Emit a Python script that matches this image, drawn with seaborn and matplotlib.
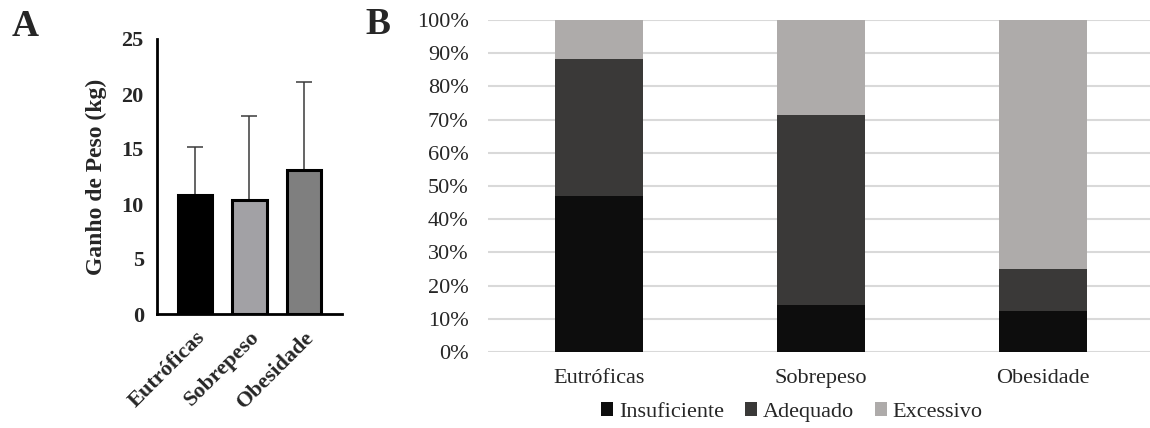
import numpy as np
import pandas as pd
import matplotlib
matplotlib.use("Agg")
import matplotlib.pyplot as plt
import seaborn as sns
from matplotlib.patches import Patch

# Panel A: mean weight gain and SD per nutritional status group
groups = ["Eutróficas", "Sobrepeso", "Obesidade"]
gain_mean = [10.8, 10.4, 13.1]
gain_sd = [4.4, 7.6, 8.0]
gain_colors = ["#000000", "#a2a1a5", "#7f7f7f"]

# Panel B: share of adequacy of weight gain per group (%)
insuficiente = [47.1, 14.3, 12.5]
adequado = [41.1, 57.1, 12.5]
excessivo = [11.8, 28.6, 75.0]
status_labels = ["Insuficiente", "Adequado", "Excessivo"]
status_colors = ["#0d0d0d", "#3a3938", "#aeabaa"]
pct_ticks = [0, 10, 20, 30, 40, 50, 60, 70, 80, 90, 100]

sns.set_theme(style="white")
plt.rcParams["font.family"] = ["Liberation Serif", "DejaVu Serif"]

fig = plt.figure(figsize=(11.5, 4.28), dpi=100)

# ---------------- Panel A ----------------
axA = fig.add_axes([157 / 1150, 1 - 314 / 428, 185 / 1150, 275 / 428])
dfA = pd.DataFrame({"grupo": groups, "ganho": gain_mean})
sns.barplot(data=dfA, x="grupo", y="ganho", hue="grupo", palette=gain_colors,
            legend=False, width=0.64, edgecolor="black", linewidth=2.2,
            errorbar=None, ax=axA, zorder=3)
axA.errorbar(np.arange(len(groups)), gain_mean,
             yerr=[np.zeros(len(groups)), gain_sd],
             fmt="none", ecolor="#3a3a3a", elinewidth=1.1, capsize=6,
             capthick=1.1, zorder=2)
axA.set_xlim(-0.7, 2.7)
axA.set_ylim(0, 25)
axA.set_yticks([0, 5, 10, 15, 20, 25])
for side in ["top", "right"]:
    axA.spines[side].set_visible(False)
for side in ["left", "bottom"]:
    axA.spines[side].set_linewidth(2.0)
    axA.spines[side].set_color("black")
axA.tick_params(axis="both", which="major", direction="out", length=7.5,
                width=2.0, color="black", pad=2)
axA.set_xlabel("")
axA.set_ylabel("Ganho de Peso (kg)", fontsize=17, fontweight="bold")
axA.yaxis.set_label_coords(-0.27, 0.5)
for lab in axA.get_yticklabels():
    lab.set_fontsize(16)
    lab.set_fontweight("bold")
axA.set_xticks(range(len(groups)))
axA.set_xticklabels(groups, rotation=45, ha="right", rotation_mode="anchor",
                    fontsize=16, fontweight="bold")

fig.text(25 / 1150, 1 - 26 / 428, "A", fontsize=27, fontweight="bold",
         ha="center", va="center")

# ---------------- Panel B ----------------
axB = fig.add_axes([488 / 1150, 1 - 352 / 428, 662 / 1150, 332 / 428])
dfB = pd.DataFrame({"grupo": groups,
                    "Insuficiente": insuficiente,
                    "Adequado": adequado,
                    "Excessivo": excessivo})
cum1 = dfB["Insuficiente"]
cum2 = cum1 + dfB["Adequado"]
cum3 = cum2 + dfB["Excessivo"]
layers = [(cum3, status_colors[2]), (cum2, status_colors[1]), (cum1, status_colors[0])]
for vals, col in layers:
    sns.barplot(x=dfB["grupo"], y=vals, color=col, width=0.395,
                errorbar=None, ax=axB, zorder=3, linewidth=0, saturation=1)

axB.set_xlim(-0.5, 2.48)
axB.set_ylim(0, 100)
axB.set_yticks(pct_ticks)
axB.set_yticklabels([f"{t}%" for t in pct_ticks], fontsize=16)
axB.yaxis.grid(True, color="#d9d9d9", linewidth=1.5, zorder=0)
axB.xaxis.grid(False)
axB.set_axisbelow(True)
for side in axB.spines:
    axB.spines[side].set_visible(False)
axB.tick_params(axis="both", length=0)
axB.tick_params(axis="y", pad=14)
axB.tick_params(axis="x", pad=12)
axB.set_xticks(range(len(groups)))
axB.set_xticklabels(groups, fontsize=16)
axB.set_xlabel("")
axB.set_ylabel("")

handles = [Patch(facecolor=c, edgecolor="none", label=l)
           for c, l in zip(status_colors, status_labels)]
fig.legend(handles=handles, loc="center", bbox_to_anchor=(792 / 1150, 1 - 412 / 428),
           ncol=3, frameon=False, fontsize=16, handlelength=0.55, handleheight=0.55,
           handletextpad=0.25, columnspacing=0.95)

fig.text(378 / 1150, 1 - 25 / 428, "B", fontsize=27, fontweight="bold",
         ha="center", va="center")

fig.savefig("out.png", dpi=100)
